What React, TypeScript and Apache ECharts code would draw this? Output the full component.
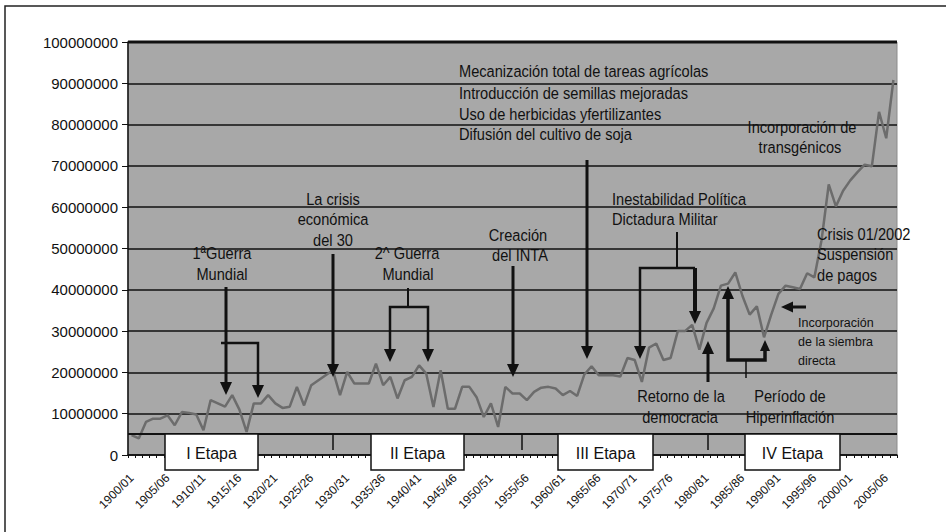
import React, { useEffect, useRef } from "react";
import * as echarts from "echarts";

// Campañas agrícolas 1900/01 – 2006/07
const firstYear = 1900;
const lastYear = 2006;
const campanias: string[] = [];
for (let y = firstYear; y <= lastYear; y++) {
  campanias.push(`${y}/${String((y + 1) % 100).padStart(2, "0")}`);
}

// Producción de granos (millones de toneladas)
const produccionMt: number[] = [
  4.8, 4.0, 8.0, 8.8, 8.8, 9.6, 7.2, 10.4, 10.2, 9.8,
  6.0, 13.3, 12.5, 11.7, 14.5, 11.0, 5.6, 12.5, 12.5, 14.5,
  12.5, 11.4, 11.7, 16.5, 12.0, 16.9, 18.1, 19.3, 20.5, 14.5,
  20.1, 17.3, 17.3, 17.3, 22.1, 16.9, 18.9, 13.7, 18.1, 18.9,
  21.7, 19.7, 11.6, 20.5, 11.2, 11.2, 16.5, 16.5, 14.0, 9.2,
  12.5, 6.8, 16.5, 14.9, 14.9, 13.3, 15.3, 16.3, 16.5, 16.1,
  14.5, 15.5, 14.3, 19.5, 21.5, 19.3, 19.3, 19.3, 19.0, 23.5,
  23.0, 17.7, 26.0, 27.0, 23.0, 23.5, 30.0, 30.0, 31.5, 25.5,
  32.0, 35.5, 41.0, 41.5, 44.2, 38.5, 34.0, 36.0, 28.5, 34.0,
  39.0, 41.0, 40.6, 40.2, 44.0, 43.0, 52.0, 65.5, 60.2, 64.0,
  66.5, 68.5, 70.3, 69.9, 83.1, 76.7, 90.8,
];
const produccion = produccionMt.map((v) => Math.round(v * 1e6));

const yMin = 0;
const yMax = 100000000;
const yInterval = 10000000;

const etapas = ["I Etapa", "II Etapa", "III Etapa", "IV Etapa"];

const INK = "#111111";
const ARIAL = '"Liberation Sans", Arial, sans-serif';
const NARROW_SCALE = 0.86;

function txt(text: string, x: number, y: number, align = "center", size = 17, narrow = true): any {
  return {
    type: "text",
    z: 100,
    x,
    y,
    scaleX: narrow ? NARROW_SCALE : 1,
    style: {
      text,
      fill: INK,
      font: `${size}px ${ARIAL}`,
      textAlign: align,
      textVerticalAlign: "middle",
      align,
      verticalAlign: "middle",
    },
  };
}
function pl(points: number[][], w = 3): any {
  return { type: "polyline", z: 100, shape: { points }, style: { stroke: INK, lineWidth: w } };
}
function headDown(x: number, tip: number, w = 12, h = 13): any {
  return { type: "polygon", z: 100, shape: { points: [[x - w / 2, tip - h], [x + w / 2, tip - h], [x, tip]] }, style: { fill: INK } };
}
function headUp(x: number, tip: number, w = 12, h = 13): any {
  return { type: "polygon", z: 100, shape: { points: [[x - w / 2, tip + h], [x + w / 2, tip + h], [x, tip]] }, style: { fill: INK } };
}
function headLeft(tipX: number, y: number, w = 12, h = 13): any {
  return { type: "polygon", z: 100, shape: { points: [[tipX + h, y - w / 2], [tipX + h, y + w / 2], [tipX, y]] }, style: { fill: INK } };
}

function buildGraphics(): any[] {
  const g: any[] = [];
  // outer frame
  g.push({ type: "rect", z: 1, shape: { x: 5, y: 6, width: 980, height: 600 }, style: { fill: "rgba(0,0,0,0)", stroke: "#222", lineWidth: 1.5 } });
  // thick top border of plot
  g.push(pl([[128, 42], [897, 42]], 3));
  // timeline band
  g.push(pl([[128, 434], [897, 434]], 2));
  [333, 522, 708].forEach((x) => g.push(pl([[x, 434], [x, 450]], 1.5)));
  const boxes = [
    [165, 258],
    [371, 464],
    [558, 653],
    [745, 840],
  ];
  boxes.forEach((b, i) => {
    g.push({ type: "rect", z: 100, shape: { x: b[0], y: 434, width: b[1] - b[0], height: 36 }, style: { fill: "#ffffff", stroke: INK, lineWidth: 1.5 } });
    g.push(txt(etapas[i], (b[0] + b[1]) / 2, 453, "center", 16, false));
  });

  // Mecanización block
  g.push(txt("Mecanización total de tareas agrícolas", 459, 71, "left"));
  g.push(txt("Introducción de semillas mejoradas", 459, 93, "left"));
  g.push(txt("Uso de herbicidas yfertilizantes", 459, 114, "left"));
  g.push(txt("Difusión del cultivo de soja", 459, 134, "left"));
  g.push(pl([[587, 160], [587, 348]], 3));
  g.push(headDown(587, 359));

  // Crisis del 30
  g.push(txt("La crisis", 333, 199));
  g.push(txt("económica", 333, 219));
  g.push(txt("del 30", 333, 240));
  g.push(pl([[333, 254], [333, 366]], 3));
  g.push(headDown(333, 377));

  // 1ª Guerra
  g.push(txt("1ªGuerra", 222, 253));
  g.push(txt("Mundial", 222, 274));
  g.push(pl([[226, 287], [226, 384]], 3));
  g.push(headDown(226, 395));
  g.push(pl([[221, 343], [258, 343], [258, 387]], 2.5));
  g.push(headDown(258, 398));

  // 2ª Guerra
  g.push(txt("2^ Guerra", 407, 253));
  g.push(txt("Mundial", 408, 274));
  g.push(pl([[408, 288], [408, 307]], 2));
  g.push(pl([[390, 351], [390, 307], [428, 307], [428, 351]], 2.5));
  g.push(headDown(390, 362));
  g.push(headDown(428, 362));

  // Creación del INTA
  g.push(txt("Creación", 518, 235));
  g.push(txt("del INTA", 520, 255));
  g.push(pl([[513, 266], [513, 366]], 3));
  g.push(headDown(513, 377));

  // Inestabilidad política
  g.push(txt("Inestabilidad Política", 612, 199, "left"));
  g.push(txt("Dictadura Militar", 612, 219, "left"));
  g.push(pl([[677, 232], [677, 268]], 2));
  g.push(pl([[640, 348], [640, 268], [695, 268]], 2.5));
  g.push(pl([[695, 268], [695, 312]], 4));
  g.push(headDown(640, 359));
  g.push(headDown(695, 324));

  // Retorno de la democracia
  g.push(pl([[708, 382], [708, 352]], 3));
  g.push(headUp(708, 341));
  g.push(txt("Retorno de la", 681, 396));
  g.push(txt("democracia", 680, 417));

  // Hiperinflación
  g.push(pl([[728, 298], [728, 360], [765, 360], [765, 350]], 3.5));
  g.push(headUp(728, 286));
  g.push(headUp(765, 340, 10, 11));
  g.push(pl([[746, 360], [746, 378]], 1.5));
  g.push(txt("Período de", 790, 396));
  g.push(txt("Hiperinflación", 790, 417));

  // Transgénicos
  g.push(txt("Incorporación de", 802, 127));
  g.push(txt("transgénicos", 800, 147));

  // Crisis 2002
  g.push(txt("Crisis 01/2002", 817, 234, "left"));
  g.push(txt("Suspensión", 817, 254, "left"));
  g.push(txt("de pagos", 817, 275, "left"));

  // Siembra directa
  g.push(pl([[806, 307], [792, 307]], 3));
  g.push(headLeft(781, 307, 11, 12));
  g.push(txt("Incorporación", 798, 323, "left", 12.5, false));
  g.push(txt("de la siembra", 798, 342, "left", 12.5, false));
  g.push(txt("directa", 798, 361, "left", 12.5, false));
  return g;
}

export default function App() {
  const ref = useRef<HTMLDivElement>(null);
  useEffect(() => {
    if (!ref.current) return;
    const chart = echarts.init(ref.current, undefined, { renderer: "svg" });
    chart.setOption({
      animation: false,
      backgroundColor: "#ffffff",
      grid: {
        left: 128,
        right: 49,
        top: 42,
        bottom: 77,
        show: true,
        backgroundColor: "#a8a8a8",
        borderColor: "#8c8c8c",
        borderWidth: 1,
      },
      xAxis: {
        type: "category",
        data: campanias,
        boundaryGap: true,
        axisLine: { lineStyle: { color: INK, width: 1.5 } },
        axisTick: { show: true, interval: 0, length: 3, lineStyle: { color: INK } },
        axisLabel: {
          interval: 4,
          rotate: 45,
          margin: 21,
          color: INK,
          fontSize: 12,
          fontFamily: ARIAL,
        },
        splitLine: { show: false },
      },
      yAxis: {
        type: "value",
        min: yMin,
        max: yMax,
        interval: yInterval,
        axisLine: { show: true, lineStyle: { color: INK, width: 1.5 } },
        axisTick: { show: true, length: 6, lineStyle: { color: INK } },
        axisLabel: {
          margin: 10,
          color: INK,
          fontSize: 15,
          fontFamily: ARIAL,
          formatter: (v: number) => String(v),
        },
        splitLine: { show: true, lineStyle: { color: INK, width: 1.5 } },
      },
      series: [
        {
          type: "line",
          data: produccion,
          symbol: "none",
          lineStyle: { color: "#6c6c6c", width: 2.5 },
          z: 3,
        },
      ],
      graphic: { elements: buildGraphics() },
    });
    return () => chart.dispose();
  }, []);
  return (
    <div
      ref={ref}
      style={{ position: "absolute", left: 0, top: 0, width: 946, height: 532, background: "#fff" }}
    />
  );
}
